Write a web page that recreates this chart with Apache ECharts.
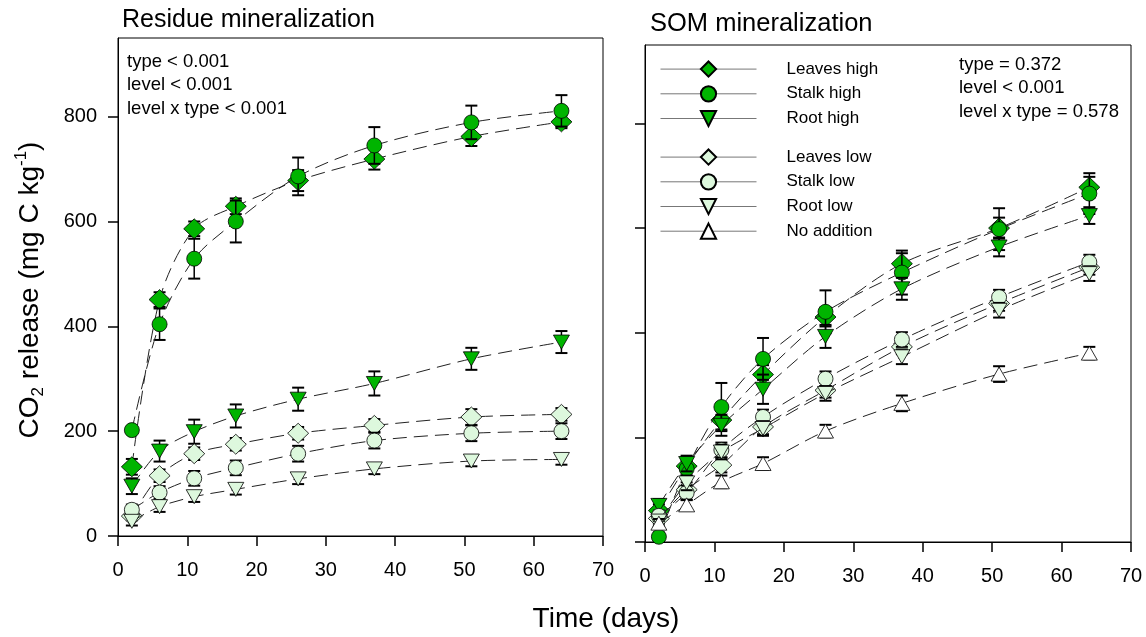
<!DOCTYPE html>
<html>
<head>
<meta charset="utf-8">
<script src="https://cdn.jsdelivr.net/npm/echarts@6/dist/echarts.min.js"></script>
<style>
html,body{margin:0;padding:0;background:#fff;}
#chart{width:1146px;height:637px;}
</style>
</head>
<body>
<div id="chart"></div>
<script>
// ---- data ----
const days = [2, 6, 11, 17, 26, 37, 51, 64];
const xTicks = [0, 10, 20, 30, 40, 50, 60, 70];
const yTicks = [0, 200, 400, 600, 800];
const seriesNames = ['Leaves high', 'Stalk high', 'Root high', 'Leaves low', 'Stalk low', 'Root low', 'No addition'];

// Residue mineralization (left panel)
const resLeavesHigh = [132, 451, 586, 629, 678, 719, 762, 790];
const resLeavesHighErr = [15, 14, 14, 15, 20, 20, 18, 12];
const resStalkHigh = [202, 404, 529, 600, 686, 745, 789, 811];
const resStalkHighErr = [5, 30, 38, 40, 36, 35, 32, 30];
const resRootHigh = [95, 162, 199, 229, 261, 291, 338, 370];
const resRootHighErr = [15, 20, 23, 22, 22, 23, 21, 21];
const resLeavesLow = [38, 115, 157, 175, 196, 211, 227, 232];
const resLeavesLowErr = [8, 12, 12, 12, 12, 12, 15, 12];
const resStalkLow = [50, 83, 110, 130, 157, 182, 196, 200];
const resStalkLowErr = [10, 12, 14, 14, 15, 15, 15, 15];
const resRootLow = [28, 56, 75, 89, 109, 128, 143, 146];
const resRootLowErr = [8, 10, 10, 10, 10, 10, 10, 10];

// SOM mineralization (right panel)
const somLeavesHigh = [60, 145, 233, 320, 430, 532, 600, 678];
const somLeavesHighErr = [12, 18, 18, 18, 18, 20, 20, 20];
const somStalkHigh = [10, 140, 258, 350, 440, 515, 598, 666];
const somStalkHighErr = [8, 15, 46, 40, 41, 42, 40, 39];
const somRootHigh = [70, 150, 223, 292, 393, 484, 564, 624];
const somRootHighErr = [12, 15, 20, 28, 22, 21, 18, 16];
const somLeavesLow = [45, 100, 147, 220, 290, 373, 456, 525];
const somLeavesLowErr = [10, 14, 14, 14, 14, 14, 14, 14];
const somStalkLow = [50, 94, 176, 239, 312, 387, 468, 535];
const somStalkLowErr = [10, 14, 14, 14, 14, 14, 14, 14];
const somRootLow = [40, 113, 172, 217, 284, 354, 443, 513];
const somRootLowErr = [10, 14, 14, 14, 14, 14, 14, 14];
const somNoAddition = [36, 71, 115, 150, 212, 265, 321, 361];
const somNoAdditionErr = [8, 10, 12, 12, 12, 15, 15, 12];

// ---- styles ----
const FONT = 'Liberation Sans, Arial, sans-serif';
const DARK = '#00b400';
const LIGHT = '#ddf8dd';
const styles = {
  'Leaves high': {symbol: 'diamond', size: [21, 20], rot: 0, color: DARK},
  'Stalk high': {symbol: 'circle', size: 15, rot: 0, color: DARK},
  'Root high': {symbol: 'triangle', size: [16, 14], rot: 180, color: DARK},
  'Leaves low': {symbol: 'diamond', size: [21, 20], rot: 0, color: LIGHT},
  'Stalk low': {symbol: 'circle', size: 15, rot: 0, color: LIGHT},
  'Root low': {symbol: 'triangle', size: [16, 14], rot: 180, color: LIGHT},
  'No addition': {symbol: 'triangle', size: [16, 14], rot: 0, color: '#ffffff'}
};

const panels = [
  {grid: 0, sets: [
    ['Leaves high', resLeavesHigh, resLeavesHighErr],
    ['Stalk high', resStalkHigh, resStalkHighErr],
    ['Root high', resRootHigh, resRootHighErr],
    ['Leaves low', resLeavesLow, resLeavesLowErr],
    ['Stalk low', resStalkLow, resStalkLowErr],
    ['Root low', resRootLow, resRootLowErr]
  ]},
  {grid: 1, sets: [
    ['Leaves high', somLeavesHigh, somLeavesHighErr],
    ['Stalk high', somStalkHigh, somStalkHighErr],
    ['Root high', somRootHigh, somRootHighErr],
    ['Leaves low', somLeavesLow, somLeavesLowErr],
    ['Stalk low', somStalkLow, somStalkLowErr],
    ['Root low', somRootLow, somRootLowErr],
    ['No addition', somNoAddition, somNoAdditionErr]
  ]}
];

function errRender(params, api) {
  const x = api.value(0), y = api.value(1), e = api.value(2);
  const top = api.coord([x, y + e]);
  const bot = api.coord([x, y - e]);
  const hw = 6;
  return {type: 'group', children: [
    {type: 'line', shape: {x1: top[0], y1: top[1], x2: bot[0], y2: bot[1]}, style: {stroke: '#000', lineWidth: 1.5}},
    {type: 'line', shape: {x1: top[0] - hw, y1: top[1], x2: top[0] + hw, y2: top[1]}, style: {stroke: '#000', lineWidth: 2}},
    {type: 'line', shape: {x1: bot[0] - hw, y1: bot[1], x2: bot[0] + hw, y2: bot[1]}, style: {stroke: '#000', lineWidth: 2}}
  ]};
}

const series = [];
panels.forEach(p => {
  p.sets.forEach(([name, vals, errs], k) => {
    const s = styles[name];
    series.push({
      name: name + ' err',
      type: 'custom',
      xAxisIndex: p.grid, yAxisIndex: p.grid,
      data: days.map((d, i) => [d, vals[i], errs[i]]),
      renderItem: errRender,
      silent: true,
      z: 10 + 2 * k
    });
    series.push({
      name: name,
      type: 'line',
      xAxisIndex: p.grid, yAxisIndex: p.grid,
      data: days.map((d, i) => [d, vals[i]]),
      smooth: 0.3,
      symbol: s.symbol,
      symbolSize: s.size,
      symbolRotate: s.rot,
      showAllSymbol: true,
      z: 11 + 2 * k,
      lineStyle: {color: '#222', width: 1, type: [14, 7]},
      itemStyle: {color: s.color, borderColor: '#000', borderWidth: 0.8, opacity: 1},
      emphasis: {disabled: true}
    });
  });
});

function xAxis(gi) {
  return {
    type: 'value', gridIndex: gi, min: 0, max: 70, interval: 10,
    axisLine: {show: true, lineStyle: {color: '#000', width: 1}},
    axisTick: {show: true, inside: false, length: 10, lineStyle: {color: '#000', width: 1.5}},
    axisLabel: {color: '#000', fontSize: 20, fontFamily: FONT, margin: 24},
    splitLine: {show: false}
  };
}
function yAxis(gi, showLabels) {
  return {
    type: 'value', gridIndex: gi, min: 0, max: 950,
    axisLine: {show: true, lineStyle: {color: '#000', width: 1}},
    axisTick: {show: true, inside: false, length: 10, customValues: yTicks, lineStyle: {color: '#000', width: 1.5}},
    axisLabel: {show: showLabels, customValues: yTicks, color: '#000', fontSize: 20, fontFamily: FONT, margin: 21},
    splitLine: {show: false}
  };
}

const legendCommon = {
  orient: 'vertical',
  left: 655,
  itemWidth: 96,
  itemHeight: 19,
  itemGap: 7.5,
  selectedMode: false,
  lineStyle: {type: 'solid', color: '#777', width: 1},
  textStyle: {fontSize: 17, color: '#000', fontFamily: FONT, padding: [0, 0, 0, 25]}
};

const option = {
  backgroundColor: '#fff',
  animation: false,
  grid: [
    {left: 118, top: 38, width: 485, height: 498, show: true, borderColor: '#000', borderWidth: 1, backgroundColor: 'transparent'},
    {left: 645, top: 45, width: 486, height: 497, show: true, borderColor: '#000', borderWidth: 1, backgroundColor: 'transparent'}
  ],
  xAxis: [xAxis(0), xAxis(1)],
  yAxis: [yAxis(0, true), yAxis(1, false)],
  legend: [
    Object.assign({}, legendCommon, {top: 55.5, data: seriesNames.slice(0, 3)}),
    Object.assign({}, legendCommon, {top: 143.5, data: seriesNames.slice(3)})
  ],
  graphic: [
    {type: 'text', left: 122, top: 8, style: {text: 'Residue mineralization', fontSize: 25, fontFamily: FONT, fill: '#000'}},
    {type: 'text', left: 650, top: 11, style: {text: 'SOM mineralization', fontSize: 25.5, fontFamily: FONT, fill: '#000'}},
    {type: 'text', left: 127, top: 50, style: {text: 'type < 0.001\nlevel < 0.001\nlevel x type < 0.001', fontSize: 18.5, lineHeight: 23.5, fontFamily: FONT, fill: '#000'}},
    {type: 'text', left: 959, top: 53, style: {text: 'type = 0.372\nlevel < 0.001\nlevel x type = 0.578', fontSize: 18.5, lineHeight: 23.5, fontFamily: FONT, fill: '#000'}},
    {type: 'text', x: 30, y: 290, rotation: Math.PI / 2,
      style: {
        text: '{n|CO}{sub|2}{n| release (mg C kg}{sup|-1}{n|)}',
        align: 'center', verticalAlign: 'middle', fill: '#000', fontFamily: FONT,
        rich: {
          n: {fontSize: 28, lineHeight: 34, fontFamily: FONT, fill: '#000'},
          sub: {fontSize: 17, lineHeight: 17, verticalAlign: 'bottom', fontFamily: FONT, fill: '#000'},
          sup: {fontSize: 17, lineHeight: 17, verticalAlign: 'top', fontFamily: FONT, fill: '#000'}
        }
      }},
    {type: 'text', x: 606, y: 619, style: {text: 'Time (days)', fontSize: 28, fontFamily: FONT, fill: '#000', align: 'center', verticalAlign: 'middle'}}
  ],
  series: series
};

const chart = echarts.init(document.getElementById('chart'), null, {renderer: 'canvas'});
chart.setOption(option);
</script>
</body>
</html>
